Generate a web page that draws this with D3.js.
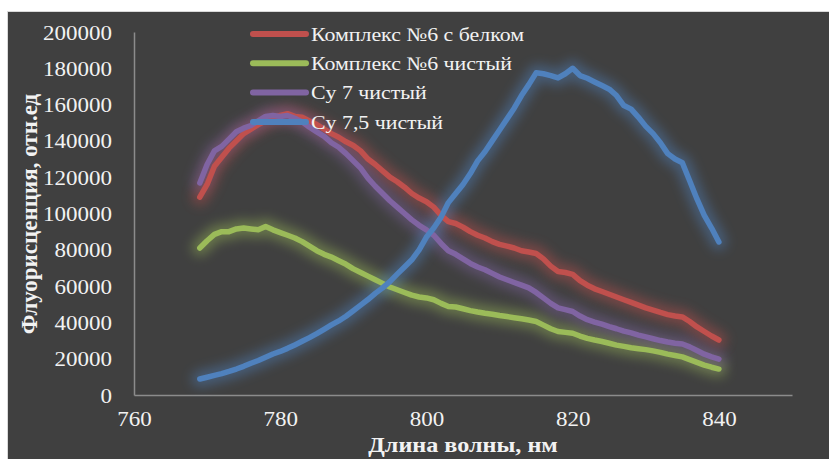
<!DOCTYPE html>
<html>
<head>
<meta charset="utf-8">
<script src="https://cdn.jsdelivr.net/npm/d3@7"></script>
<style>
  html, body { margin: 0; padding: 0; background: #ffffff; }
  svg { display: block; }
  text { font-family: "Liberation Serif", "Times New Roman", serif; }
</style>
</head>
<body>
<svg id="chart" width="829" height="459"></svg>
<script>
// Wavelength grid, nm
const wavelengths = d3.range(769, 841);

// Fluorescence, relative units, one value per nm from 769 to 840
const complex6Protein = [
  109000, 116000, 126000, 131000, 136000, 140000, 144000, 146500, 149000, 151000,
  153000, 154000, 155000, 153500, 153000, 151000, 149000, 146500, 144000, 142000,
  139500, 137500, 134500, 130000, 127000, 123500, 120000, 117500, 114500, 111000,
  108500, 106500, 103500, 99000, 95500, 94500, 92500, 90000, 88000, 86500,
  84500, 83000, 82000, 81000, 79500, 78800, 78000, 75000, 71000, 68000,
  67500, 66500, 63000, 60500, 58500, 57000, 55500, 54000, 52500, 51000,
  49500, 48000, 46800, 45500, 44300, 43500, 43000, 40500, 37500, 35000,
  32500, 30300
];
const complex6Pure = [
  81000, 85000, 88500, 90000, 90000, 91500, 92000, 91500, 91000, 92800,
  91000, 89500, 88000, 86500, 84500, 82000, 79500, 77500, 76000, 74000,
  72000, 69500, 67500, 65500, 63500, 61500, 59500, 58000, 56500, 55000,
  54000, 53500, 52500, 50500, 48800, 48500, 47500, 46500, 45700, 45000,
  44500, 43800, 43200, 42600, 42000, 41300, 40500, 38500, 36500, 35000,
  34500, 34000, 32500, 31200, 30300, 29500, 28500, 27500, 26800, 26000,
  25500, 25000, 24300, 23500, 22500, 21800, 21000, 19500, 18000, 16500,
  15300, 14300
];
const cy7Pure = [
  116800, 127000, 134500, 137000, 141000, 145000, 147000, 148500, 151000, 153500,
  154000, 153500, 154000, 152500, 150500, 147500, 145000, 142500, 139000, 136500,
  133000, 129000, 125000, 119500, 115000, 111000, 107000, 103500, 100000, 96500,
  93500, 91000, 88000, 83500, 79500, 77500, 75000, 72500, 70500, 69000,
  67000, 65000, 63500, 62000, 60500, 59000, 56500, 53500, 50500, 48000,
  47000, 46000, 43500, 41500, 40200, 39000, 37700, 36500, 35200, 34200,
  33000, 32000, 31000, 30000, 29200, 28500, 28100, 26500, 24500, 22500,
  21000, 19800
];
const cy75Pure = [
  8800, 9800, 10800, 11800, 13000, 14300, 15800, 17500, 19000, 20800,
  22600, 24000, 25700, 27600, 29600, 31600, 33800, 36200, 38600, 40800,
  43400, 46400, 49500, 52600, 56000, 59000, 62500, 66600, 70500, 74500,
  80000, 87000, 92000, 98000, 106000, 111000, 116000, 122000, 129000, 134000,
  140000, 146000, 152000, 158000, 165000, 171000, 177500, 177000, 176000, 174700,
  177000, 180000, 176000, 174500, 172500, 170500, 168500, 165000, 159500, 157500,
  153000, 148000, 144000, 139000, 133000, 130000, 128000, 118000, 108000, 99000,
  92000, 84300
];

const seriesNames = ["Комплекс №6 с белком", "Комплекс №6 чистый", "Cy 7 чистый", "Cy 7,5 чистый"];
const seriesColors = ["#c0504d", "#9bbb59", "#8064a2", "#4f81bd"];
const seriesValues = [complex6Protein, complex6Pure, cy7Pure, cy75Pure];

const xTicks = [760, 780, 800, 820, 840];
const yTicks = [0, 20000, 40000, 60000, 80000, 100000, 120000, 140000, 160000, 180000, 200000];

const xTitle = "Длина волны, нм";
const yTitle = "Флуорисценция, отн.ед";

const svg = d3.select("#chart");
const W = 829, H = 459;
const widen = 1.15; // horizontal text widening

// Dark chart area with thin light frame
svg.append("rect")
  .attr("x", 7.5).attr("y", 11.5)
  .attr("width", W).attr("height", H)
  .attr("fill", "#404040")
  .attr("stroke", "#d9d9d9").attr("stroke-width", 1);

const plot = { left: 134, right: 792, top: 32, bottom: 395 };

const x = d3.scaleLinear().domain([760, 850]).range([plot.left, plot.right]);
const y = d3.scaleLinear().domain([0, 200000]).range([plot.bottom, plot.top]);

// Soft glow behind the curves
const defs = svg.append("defs");
defs.append("filter")
  .attr("id", "glow")
  .attr("x", "-20%").attr("y", "-20%").attr("width", "140%").attr("height", "140%")
  .append("feGaussianBlur").attr("stdDeviation", 6);

// Axes
const yAxis = d3.axisLeft(y).tickValues(yTicks).tickSize(0).tickPadding(22).tickFormat(d3.format("d"));
const xAxis = d3.axisBottom(x).tickValues(xTicks).tickSize(0).tickPadding(17).tickFormat(d3.format("d"));

const gy = svg.append("g").attr("transform", `translate(${plot.left},0)`).call(yAxis);
const gx = svg.append("g").attr("transform", `translate(0,${plot.bottom})`).call(xAxis);

[gx, gy].forEach(g => {
  g.select(".domain").attr("stroke", "#8c8c8c").attr("stroke-width", 1.5);
  g.selectAll("text")
    .attr("fill", "#f2f2f2")
    .attr("class", "wide")
    .style("font-family", "'Liberation Serif', 'Times New Roman', serif")
    .style("font-size", "20px");
});
gy.selectAll("text").attr("dy", "0.35em");

// Curves
const line = d3.line()
  .x((d, i) => x(wavelengths[i]))
  .y(d => y(d))
  .curve(d3.curveLinear);

const glowLayer = svg.append("g");
const lineLayer = svg.append("g");

seriesValues.forEach((vals, k) => {
  glowLayer.append("path")
    .datum(vals)
    .attr("d", line)
    .attr("fill", "none")
    .attr("stroke", seriesColors[k])
    .attr("stroke-width", 16)
    .attr("stroke-linejoin", "round")
    .attr("stroke-linecap", "round")
    .attr("opacity", 0.45)
    .attr("filter", "url(#glow)");
});

seriesValues.forEach((vals, k) => {
  lineLayer.append("path")
    .datum(vals)
    .attr("d", line)
    .attr("fill", "none")
    .attr("stroke", seriesColors[k])
    .attr("stroke-width", 5.5)
    .attr("stroke-linejoin", "round")
    .attr("stroke-linecap", "round");
});

// Legend
const legend = svg.append("g");
seriesNames.forEach((name, k) => {
  const ly = 34 + k * 29.3;
  legend.append("line")
    .attr("x1", 253).attr("x2", 306)
    .attr("y1", ly).attr("y2", ly)
    .attr("stroke", seriesColors[k])
    .attr("stroke-width", 6)
    .attr("stroke-linecap", "round");
  legend.append("text")
    .attr("class", "wide")
    .attr("x", 311).attr("y", ly)
    .attr("dy", "0.35em")
    .attr("fill", "#f2f2f2")
    .style("font-size", "19px")
    .text(name);
});

// Axis titles
svg.append("text")
  .attr("class", "wide")
  .attr("x", (plot.left + plot.right) / 2)
  .attr("y", 452)
  .attr("text-anchor", "middle")
  .attr("fill", "#f2f2f2")
  .style("font-size", "21px")
  .style("font-weight", "bold")
  .text(xTitle);

svg.append("text")
  .attr("transform", "translate(37,214) rotate(-90)")
  .attr("text-anchor", "middle")
  .attr("fill", "#f2f2f2")
  .style("font-size", "23px")
  .style("font-weight", "bold")
  .text(yTitle);

// Widen horizontal labels
svg.selectAll("text.wide").each(function () {
  const w = this.getComputedTextLength();
  d3.select(this)
    .attr("textLength", w * widen)
    .attr("lengthAdjust", "spacingAndGlyphs");
});
</script>
</body>
</html>
